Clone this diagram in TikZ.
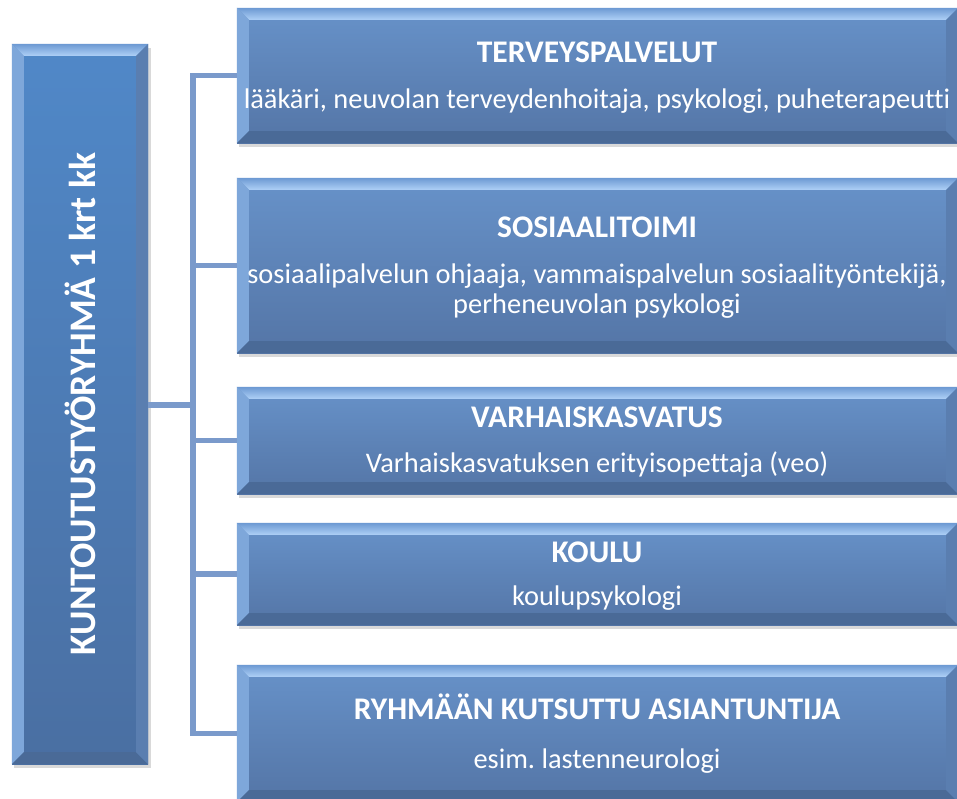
\documentclass[tikz,border=0pt]{standalone}
\usepackage{fontspec}
\setmainfont[Ligatures=NoCommon]{Carlito}
\frenchspacing
\definecolor{boxtop}{HTML}{6792C9}
\definecolor{boxbot}{HTML}{5475A6}
\definecolor{ltop}{HTML}{5088C8}
\definecolor{lbot}{HTML}{4A6FA2}
\definecolor{bevhi}{HTML}{AED0F6}
\definecolor{bevedge}{HTML}{6C99D2}
\definecolor{bevleft}{HTML}{7EA7DA}
\definecolor{bevbot}{HTML}{4A6A97}
\definecolor{bevright}{HTML}{5A7EB0}
\definecolor{conn}{HTML}{7A9ACB}
\tikzset{
  rbox/.style={rectangle, inner sep=0pt, draw=none, top color=boxtop, bottom color=boxbot},
  lbox/.style={rectangle, inner sep=0pt, draw=none, top color=ltop, bottom color=lbot},
  ttl/.style={text=white, font=\bfseries\fontsize{31.5}{36}\selectfont, anchor=base, inner sep=0pt},
  bdy/.style={text=white, font=\fontsize{28.4}{30}\selectfont, anchor=base, inner sep=0pt, align=center},
  lnk/.style={draw=conn, line width=5.5pt, line join=miter, line cap=butt},
  shd/.style={fill=black, opacity=0.15}
}
\newcommand{\bevelof}[1]{%
  \shade[top color=bevedge, bottom color=bevhi] (#1.north west) -- (#1.north east) -- ([xshift=-12pt,yshift=-12pt]#1.north east) -- ([xshift=12pt,yshift=-12pt]#1.north west) -- cycle;
  \fill[bevleft] (#1.north west) -- ([xshift=12pt,yshift=-12pt]#1.north west) -- ([xshift=12pt,yshift=12pt]#1.south west) -- (#1.south west) -- cycle;
  \fill[bevbot] (#1.south west) -- ([xshift=12pt,yshift=12pt]#1.south west) -- ([xshift=-12pt,yshift=12pt]#1.south east) -- (#1.south east) -- cycle;
  \fill[bevright] (#1.north east) -- ([xshift=-12pt,yshift=-12pt]#1.north east) -- ([xshift=-12pt,yshift=12pt]#1.south east) -- (#1.south east) -- cycle;
}
\begin{document}
\begin{tikzpicture}[x=1pt,y=-1pt]
\useasboundingbox (0,0) rectangle (957,798);
\fill[white] (0,0) rectangle (957,798);
\begin{scope}
\clip (0,0) rectangle (957,798);
% shadows
\fill[shd] (14,48) rectangle (151,768);
\fill[shd] (239,12) rectangle (960,147);
\fill[shd] (239,182) rectangle (960,357);
\fill[shd] (239,391) rectangle (960,498);
\fill[shd] (239,527) rectangle (960,629);
\fill[shd] (239,669) rectangle (960,806);
\coordinate (hub) at (193,405);
% boxes
\node[lbox, minimum width=136pt, minimum height=720pt] (L) at (80,404) {};
\node[rbox, minimum width=721pt, minimum height=135pt] (B1) at (597.5,75.5) {};
\node[rbox, minimum width=721pt, minimum height=175pt] (B2) at (597.5,265.5) {};
\node[rbox, minimum width=721pt, minimum height=107pt] (B3) at (597.5,440.5) {};
\node[rbox, minimum width=721pt, minimum height=102pt] (B4) at (597.5,574) {};
\node[rbox, minimum width=721pt, minimum height=137pt] (B5) at (597.5,733.5) {};
\bevelof{L}
\bevelof{B1}
\bevelof{B2}
\bevelof{B3}
\bevelof{B4}
\bevelof{B5}
% connectors
\draw[lnk] (L.east |- hub) -- (hub);
\draw[lnk] (B1.west) -| (hub) |- (B5.west);
\draw[lnk] (hub |- B2.west) -- (B2.west);
\draw[lnk] (hub |- B3.west) -- (B3.west);
\draw[lnk] (hub |- B4.west) -- (B4.west);
\end{scope}
% texts
\node[text=white, font=\bfseries\fontsize{37.5}{42}\selectfont, rotate=90, inner sep=0pt] (Lt) at (80,404) {KUNTOUTUSTYÖRYHMÄ 1 krt kk};
\node[ttl] (t1) at (597,62) {TERVEYSPALVELUT};
\node[bdy] (d1) at (597,108) {lääkäri, neuvolan terveydenhoitaja, psykologi, puheterapeutti};
\node[ttl] (t2) at (597,237) {SOSIAALITOIMI};
\node[bdy] (d2) at (597,313) {sosiaalipalvelun ohjaaja, vammaispalvelun sosiaalityöntekijä,\\perheneuvolan psykologi};
\node[ttl] (t3) at (597,427) {VARHAISKASVATUS};
\node[bdy] (d3) at (597,472) {Varhaiskasvatuksen erityisopettaja (veo)};
\node[ttl] (t4) at (597,562) {KOULU};
\node[bdy] (d4) at (597,605) {koulupsykologi};
\node[ttl] (t5) at (597,719) {RYHMÄÄN KUTSUTTU ASIANTUNTIJA};
\node[bdy] (d5) at (597,768) {esim. lastenneurologi};
\end{tikzpicture}
\end{document}
